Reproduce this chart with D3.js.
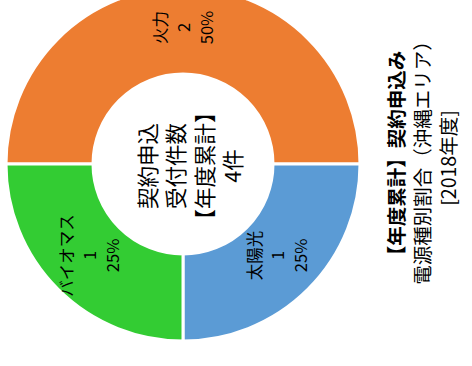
<!DOCTYPE html>
<html>
<head>
<meta charset="utf-8">
<script src="https://cdn.jsdelivr.net/npm/d3@7"></script>
<style>
  body { margin: 0; background: #fff; }
  text { font-family: "Noto Sans CJK JP", "Noto Sans", sans-serif; fill: #000; }
</style>
</head>
<body>
<div id="chart"></div>
<script>
// data
var categories = ["火力", "太陽光", "バイオマス"];
var counts = [2, 1, 1];
var percents = ["50%", "25%", "25%"];
var colors = ["#ED7D31", "#5B9BD5", "#33CC33"];
var centerLines = ["契約申込", "受付件数", "【年度累計】", "4件"];
var titleLines = ["【年度累計】契約申込み", "電源種別割合（沖縄エリア）", "[2018年度]"];

var width = 472, height = 366;
var cx = 183, cy = 164,
    outerR = 177, innerR = 90;

var svg = d3.select("#chart").append("svg")
    .attr("width", width)
    .attr("height", height);

var data = categories.map(function(c, i) {
    return { name: c, value: counts[i], pct: percents[i], color: colors[i] };
});

var pie = d3.pie()
    .sort(null)
    .value(function(d) { return d.value; })
    .startAngle(-Math.PI / 2)
    .endAngle(Math.PI * 1.5);

var arc = d3.arc().innerRadius(innerR).outerRadius(outerR);

var chartGroup = svg.append("g")
    .attr("transform", "translate(" + cx + "," + cy + ")");

var arcs = pie(data);

chartGroup.selectAll(".slice")
    .data(arcs)
    .enter().append("path")
    .attr("class", "slice")
    .attr("d", arc)
    .style("fill", function(d) { return d.data.color; })
    .style("stroke", "#fff")
    .style("stroke-width", 3);

// rotated text block: lines run left to right, glyphs read bottom to top
function textBlock(parent, x, y, lines, size, lineH, weights) {
    var g = parent.append("g")
        .attr("transform", "translate(" + x + "," + y + ") rotate(-90)");
    lines.forEach(function(t, i) {
        g.append("text")
            .attr("x", 0)
            .attr("y", (i - (lines.length - 1) / 2) * lineH)
            .attr("text-anchor", "middle")
            .attr("dominant-baseline", "central")
            .style("font-size", size + "px")
            .style("font-weight", weights ? weights[i] : "normal")
            .text(t);
    });
}

arcs.forEach(function(d) {
    var c = arc.centroid(d);
    textBlock(chartGroup, c[0], c[1] - 3, [d.data.name, String(d.data.value), d.data.pct], 16.5, 23);
});

// center label
textBlock(svg, cx + 6, cy + 2, centerLines, 21.5, 28.5);

// title
textBlock(svg, 421, 158, titleLines, 19.5, 26, ["bold", "normal", "normal"]);
</script>
</body>
</html>
